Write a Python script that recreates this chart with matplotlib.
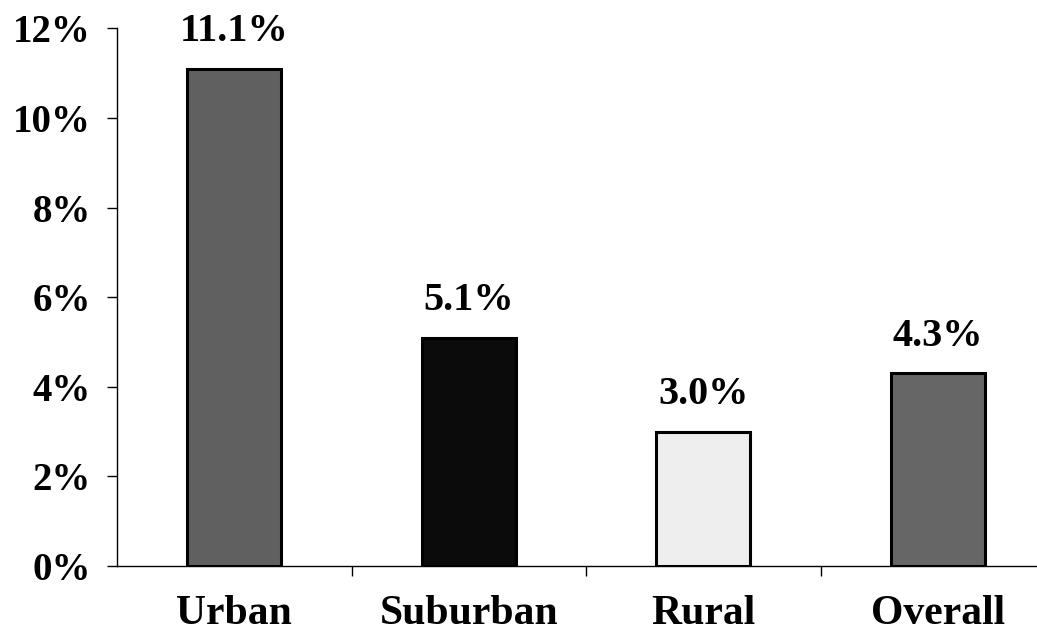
import matplotlib.pyplot as plt
from matplotlib.ticker import PercentFormatter

# --- Data ---
categories = ['Urban', 'Suburban', 'Rural', 'Overall']
values = [11.1, 5.1, 3.0, 4.3]
bar_colors = ['#606060', '#0b0b0b', '#eeeeee', '#666666']
y_ticks = [0, 2, 4, 6, 8, 10, 12]

plt.rcParams['font.family'] = ['Liberation Serif', 'DejaVu Serif']
plt.rcParams['font.weight'] = 'bold'

fig = plt.figure(figsize=(10.37, 6.35), dpi=100)
# axes extends past right edge, as in the original crop
ax = fig.add_axes([117 / 1037, 69 / 635, 938 / 1037, (566 - 28.4) / 635])

x = range(len(categories))
bars = ax.bar(x, values, width=0.4, color=bar_colors, edgecolor='black', linewidth=2.2)

for xi, v in zip(x, values):
    ax.annotate(f'{v:.1f}%', (xi, v), xytext=(0, 20), textcoords='offset points',
                ha='center', va='baseline', fontsize=29, fontweight='bold')

ax.set_xlim(-0.5, 3.5)
ax.set_ylim(0, 12)
ax.set_yticks(y_ticks)
ax.yaxis.set_major_formatter(PercentFormatter(decimals=0))

# category labels centred, ticks at boundaries
ax.set_xticks([0.5, 1.5, 2.5, 3.5])
ax.set_xticklabels([])
ax.set_xticks(list(x), minor=True)
ax.set_xticklabels(categories, minor=True)
ax.tick_params(axis='x', which='minor', length=0, pad=21, labelsize=30)
ax.tick_params(axis='x', which='major', length=7, direction='out', width=1)
ax.tick_params(axis='y', length=7, direction='out', width=1, pad=12, labelsize=28)

for s in ['top', 'right']:
    ax.spines[s].set_visible(False)
ax.spines['left'].set_linewidth(1)
ax.spines['bottom'].set_linewidth(1)

fig.savefig('out.png', dpi=100)
